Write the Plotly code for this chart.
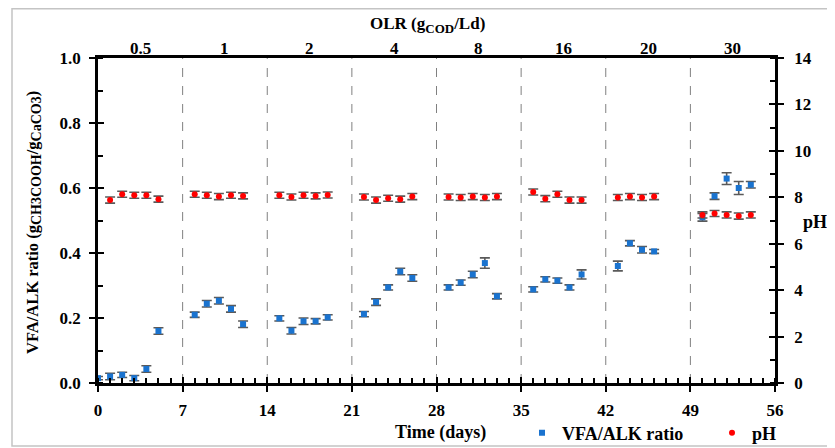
import plotly.graph_objects as go

# ---------------- data ----------------
vfa_days = [0, 1, 2, 3, 4, 5,
            8, 9, 10, 11, 12,
            15, 16, 17, 18, 19,
            22, 23, 24, 25, 26,
            29, 30, 31, 32, 33,
            36, 37, 38, 39, 40,
            43, 44, 45, 46,
            50, 51, 52, 53, 54]
vfa_ratio = [0.015, 0.02, 0.025, 0.015, 0.043, 0.16,
             0.21, 0.244, 0.253, 0.228, 0.181,
             0.199, 0.161, 0.19, 0.19, 0.202,
             0.212, 0.249, 0.294, 0.343, 0.323,
             0.294, 0.309, 0.334, 0.369, 0.267,
             0.288, 0.319, 0.315, 0.294, 0.334,
             0.36, 0.43, 0.41, 0.405,
             0.51, 0.575, 0.629, 0.6, 0.61]
vfa_err = [0.005, 0.01, 0.008, 0.008, 0.01, 0.01,
           0.008, 0.01, 0.01, 0.01, 0.01,
           0.008, 0.01, 0.01, 0.008, 0.008,
           0.008, 0.01, 0.008, 0.01, 0.01,
           0.008, 0.008, 0.01, 0.016, 0.008,
           0.008, 0.008, 0.008, 0.008, 0.014,
           0.015, 0.008, 0.01, 0.006,
           0.012, 0.01, 0.018, 0.02, 0.01]

ph_days = [1, 2, 3, 4, 5,
           8, 9, 10, 11, 12,
           15, 16, 17, 18, 19,
           22, 23, 24, 25, 26,
           29, 30, 31, 32, 33,
           36, 37, 38, 39, 40,
           43, 44, 45, 46,
           50, 51, 52, 53, 54]
ph_values = [7.88, 8.13, 8.09, 8.09, 7.92,
             8.13, 8.09, 8.03, 8.09, 8.06,
             8.09, 8.01, 8.09, 8.06, 8.10,
             8.01, 7.88, 7.96, 7.92, 8.03,
             8.01, 7.99, 8.03, 7.99, 8.03,
             8.23, 7.94, 8.13, 7.88, 7.88,
             7.99, 8.03, 7.99, 8.03,
             7.24, 7.30, 7.24, 7.19, 7.24]
ph_err = [0.13] * len(ph_values)

olr_labels = ["0.5", "1", "2", "4", "8", "16", "20", "30"]
olr_centers = [3.5, 10.5, 17.5, 24.5, 31.5, 38.5, 45.5, 52.5]
period_bounds = [7, 14, 21, 28, 35, 42, 49]
x_ticks = [0, 7, 14, 21, 28, 35, 42, 49, 56]

# ---------------- style ----------------
FONT = "Liberation Serif"
BLUE = "#1A73CF"
RED = "#FF0000"
ERR = "#5A5A5A"
AX_W = 2.5
OFF = 8                      # page body margin
W, H = 835 - OFF, 448 - OFF
L, R, T, B = 90, 60, 50, 65
PW, PH = W - L - R, H - T - B


def px(xp):
    """page x pixel -> paper fraction"""
    return (xp - OFF - L) / PW


def py(yp):
    """page y pixel -> paper fraction"""
    return (H - B - (yp - OFF)) / PH


def sub(s, size=14):
    return f"<sub><span style='font-size:{size}px'>{s}</span></sub>"


fig = go.Figure()

fig.add_trace(go.Scatter(
    x=vfa_days, y=vfa_ratio, mode="markers", name="VFA/ALK ratio",
    marker=dict(symbol="square", size=6, color=BLUE),
    error_y=dict(type="data", array=vfa_err, color=ERR, thickness=1.6, width=5),
    xaxis="x", yaxis="y", legend="legend", cliponaxis=False,
))
fig.add_trace(go.Scatter(
    x=ph_days, y=ph_values, mode="markers", name="pH",
    marker=dict(symbol="circle", size=6, color=RED),
    error_y=dict(type="data", array=ph_err, color=ERR, thickness=1.6, width=5),
    xaxis="x", yaxis="y2", legend="legend2", cliponaxis=False,
))
# helper traces so overlay axes are drawn
fig.add_trace(go.Scatter(x=[None], y=[None], xaxis="x2", yaxis="y", showlegend=False, hoverinfo="skip"))
fig.add_trace(go.Scatter(x=[None], y=[None], xaxis="x3", yaxis="y3", showlegend=False, hoverinfo="skip"))
fig.add_trace(go.Scatter(x=[None], y=[None], xaxis="x3", yaxis="y4", showlegend=False, hoverinfo="skip"))

tickfont = dict(family=FONT, size=17, color="black", weight="bold")

# period separators
for b in period_bounds:
    fig.add_shape(type="line", xref="x", yref="paper", x0=b, x1=b, y0=0, y1=1,
                  line=dict(color="#808080", width=1, dash="dash"), layer="below")

# outer frame
fig.add_shape(type="rect", xref="paper", yref="paper",
              x0=px(12), x1=px(845), y0=py(446), y1=py(OFF + 0.8),
              line=dict(color="#C4C4C4", width=1.5))

annotations = [
    dict(text="<b>OLR (g" + sub("COD", 13) + "/Ld)</b>", xref="paper", yref="paper",
         x=px(427), y=py(25), showarrow=False,
         font=dict(family=FONT, size=17), xanchor="center", yanchor="middle"),
    dict(text="<b>Time (days)</b>", xref="paper", yref="paper",
         x=px(440), y=py(433), showarrow=False,
         font=dict(family=FONT, size=18), xanchor="center", yanchor="middle"),
    dict(text="<b>VFA/ALK ratio (g" + sub("CH3COOH") + "/g" + sub("CaCO3") + ")</b>",
         xref="paper", yref="paper", textangle=-90,
         x=px(33), y=py(223), showarrow=False,
         font=dict(family=FONT, size=16.5), xanchor="center", yanchor="middle"),
    dict(text="<b>pH</b>", xref="paper", yref="paper",
         x=px(815), y=py(222), showarrow=False,
         font=dict(family=FONT, size=18), xanchor="center", yanchor="middle"),
]
# OLR period labels along the top axis
for c, lab in zip(olr_centers, olr_labels):
    annotations.append(dict(text=f"<b>{lab}</b>", xref="x", yref="paper", x=c, y=py(48),
                            showarrow=False, font=dict(family=FONT, size=17),
                            xanchor="center", yanchor="middle"))

fig.update_layout(
    width=W, height=H,
    margin=dict(l=L, r=R, t=T, b=B, autoexpand=False),
    paper_bgcolor="white", plot_bgcolor="white",
    font=dict(family=FONT, size=16, color="black"),
    xaxis=dict(range=[0, 56], tickvals=x_ticks, showgrid=False, zeroline=False,
               showline=True, linecolor="black", linewidth=AX_W, automargin=False,
               ticks="outside", ticklen=6, tickwidth=2, tickcolor="black",
               minor=dict(dtick=1, ticks="inside", ticklen=5, tickwidth=1.5, tickcolor="black"),
               tickfont=tickfont, ticklabelstandoff=4),
    xaxis2=dict(range=[0, 56], overlaying="x", side="top", anchor="y", automargin=False,
                showticklabels=False, ticks="",
                showgrid=False, zeroline=False, showline=True, linecolor="black",
                linewidth=AX_W),
    xaxis3=dict(range=[0, 56], overlaying="x", anchor="y3", tickvals=x_ticks, automargin=False,
                ticks="inside", ticklen=6, tickwidth=2, tickcolor="black",
                showticklabels=False, showgrid=False, zeroline=False, showline=False),
    yaxis=dict(range=[0, 1], dtick=0.2, tickformat=".1f", showgrid=False, zeroline=False,
               showline=True, linecolor="black", linewidth=AX_W, automargin=False,
               ticks="outside", ticklen=6, tickwidth=2, tickcolor="black",
               minor=dict(dtick=0.1, ticks="inside", ticklen=5, tickwidth=1.5, tickcolor="black"),
               tickfont=tickfont, ticklabelstandoff=5),
    yaxis2=dict(range=[0, 14], dtick=2, overlaying="y", side="right", anchor="x",
                showgrid=False, zeroline=False, automargin=False,
                showline=True, linecolor="black", linewidth=AX_W,
                ticks="outside", ticklen=6, tickwidth=2, tickcolor="black",
                minor=dict(dtick=1, ticks="inside", ticklen=5, tickwidth=1.5, tickcolor="black"),
                tickfont=tickfont, ticklabelstandoff=7),
    yaxis3=dict(range=[0, 1], dtick=0.2, overlaying="y", side="left", anchor="x3", automargin=False,
                ticks="inside", ticklen=6, tickwidth=2, tickcolor="black",
                showticklabels=False, showgrid=False, zeroline=False, showline=False),
    yaxis4=dict(range=[0, 14], dtick=2, overlaying="y", side="right", anchor="x3", automargin=False,
                ticks="inside", ticklen=6, tickwidth=2, tickcolor="black",
                showticklabels=False, showgrid=False, zeroline=False, showline=False),
    legend=dict(orientation="h", xref="container", yref="container",
                x=(522 - OFF) / W, y=1 - (433 - OFF) / H, xanchor="left", yanchor="middle",
                font=dict(family=FONT, size=18, color="black", weight="bold"),
                bgcolor="rgba(0,0,0,0)", itemwidth=30),
    legend2=dict(orientation="h", xref="container", yref="container",
                 x=(712 - OFF) / W, y=1 - (433 - OFF) / H, xanchor="left", yanchor="middle",
                 font=dict(family=FONT, size=18, color="black", weight="bold"),
                 bgcolor="rgba(0,0,0,0)", itemwidth=30),
    annotations=annotations,
)

fig.write_html("out.html")
